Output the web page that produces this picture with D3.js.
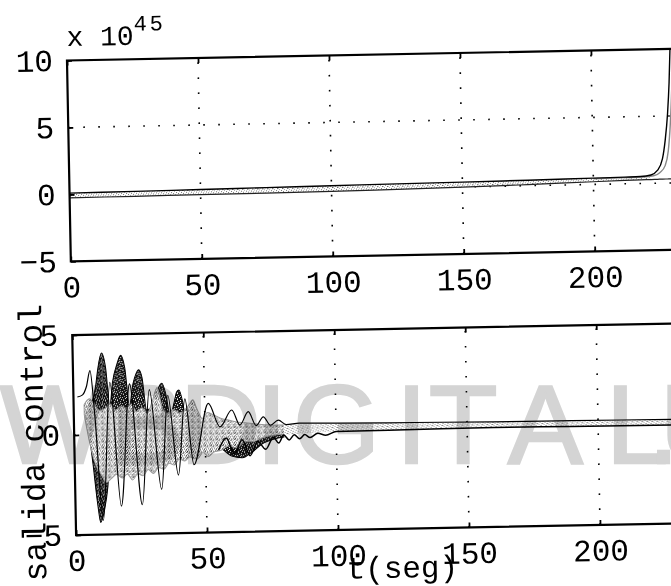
<!DOCTYPE html>
<html>
<head>
<meta charset="utf-8">
<script src="https://cdn.jsdelivr.net/npm/d3@7"></script>
<style>
  html, body { margin: 0; padding: 0; background: #fff; }
  svg { display: block; }
</style>
</head>
<body>
<svg id="chart" width="671" height="586"></svg>
<script>
// ---------------- data ----------------
const xTicks = [0, 50, 100, 150, 200, 250];
const yTicksTop = [-5, 0, 5, 10];
const yTicksBottom = [-5, 0, 5];

// upper panel, values in units of 10^45
const stateTime  = [0, 25, 50, 75, 100, 125, 150, 175, 200, 212, 218, 222, 224.5, 226.5, 227.7, 228.8, 229.6, 230.3, 231];
const stateHigh  = [0.1, 0.14, 0.18, 0.23, 0.28, 0.32, 0.36, 0.41, 0.47, 0.5, 0.52, 0.62, 0.95, 1.8, 3.2, 5.2, 7.5, 10.5, 14];
const stateLow   = [-0.25, -0.23, -0.2, -0.18, -0.15, -0.09, -0.02, 0.08, 0.2, 0.25, 0.27, 0.28, 0.29, 0.3, 0.3, 0.3, 0.3, 0.3, 0.3];
const stateTime2 = [200, 212, 220, 223, 225.5, 227.5, 228.8, 229.8, 230.8, 231.8];
const stateGray  = [0.42, 0.46, 0.5, 0.56, 0.8, 1.3, 2.4, 4.5, 8.0, 13];

// lower panel: control output traces
const ctrlATime = [1.5, 3.5, 5, 6.5, 8, 10.5, 14, 17.5, 21.5, 25.5, 29, 33, 36, 39.5, 42.5, 45.5, 51.4, 55.7, 60.3, 63.3, 66.6, 69.5, 72.3, 75, 78, 81, 86, 100, 130, 160, 190, 230, 250];
const ctrlA     = [1.9, 2.0, 2.4, 3.2, 1.0, -4.3, 2.6, -3.6, 2.5, -3.55, 2.2, -2.8, 1.9, -2.1, 1.7, -1.6, 1.45, 0.27, 1.1, 0.34, 1.0, 0.3, 0.73, 0.3, 0.55, 0.32, 0.38, 0.34, 0.3, 0.26, 0.24, 0.21, 0.2];

const ctrlBTime = [5, 7, 8.5, 9.5, 11, 12.5, 13.8, 15, 16.8, 18.3, 19.8, 21.3, 22.8, 24, 25.1, 26.3, 27.8, 30.5, 32.3, 33.8, 35.2, 36.8, 38.5, 39.4, 40.3, 41.4, 43, 47, 52, 56, 60, 64, 68, 72, 76, 80];
const ctrlBHigh = [1.2, 1.6, 2.4, 3.3, 4.07, 3.3, 1.4, 2.6, 3.5, 3.95, 3.3, 1.4, 2.5, 3.0, 3.2, 2.8, 1.2, 1.3, 2.2, 2.5, 2.0, 0.9, 1.6, 2.05, 2.15, 1.7, 0.6, 0.5, 0.3, 0.1, -0.1, 0.0, -0.1, 0.0, 0.0, -0.1];
const ctrlBLow  = [1.0, -1.5, -3.5, -4.4, -3.8, -2.6, -0.6, -1.2, -0.8, -1.0, -0.9, -0.8, -1.0, -0.9, -1.1, -1.0, -0.8, -0.6, -0.9, -0.9, -0.7, -0.5, -0.5, -0.7, -0.6, -0.5, -0.4, -0.6, -0.5, -0.8, -1.2, -1.3, -1.0, -0.6, -0.4, -0.3];

const ctrlCTime = [4, 6, 8, 10, 12, 14, 16, 18, 20, 22, 24, 26, 28, 30, 32, 34, 36, 38, 40, 42, 44, 45.5, 47, 49, 51, 53, 56, 59, 62, 65, 68, 72, 76, 80, 85];
const ctrlCHigh = [1.5, 1.8, 1.5, 1.2, 1.3, 1.5, 1.2, 1.4, 1.3, 1.5, 1.1, 1.3, 1.0, 1.6, 2.3, 1.2, 1.0, 1.2, 1.0, 1.1, 1.4, 1.65, 1.2, 0.7, 1.0, 0.9, 0.7, 0.6, 0.5, 0.45, 0.4, 0.35, 0.3, 0.3, 0.3];
const ctrlCLow  = [1.0, -0.5, -1.5, -2.0, -2.4, -2.2, -2.0, -2.2, -2.0, -2.3, -2.0, -2.1, -1.8, -2.0, -1.7, -1.8, -1.5, -1.6, -1.3, -1.4, -1.2, -1.3, -1.3, -1.0, -1.2, -1.0, -0.9, -0.7, -0.8, -0.5, -0.5, -0.3, -0.2, -0.15, -0.1];

const ctrlDTime = [55, 58, 61, 64, 67, 70, 73, 76, 78, 80, 82, 84, 86, 88, 90, 93, 96, 100, 130, 160, 190, 230, 250];
const ctrlD     = [-0.9, -0.3, -1.1, -0.4, -1.2, -0.5, -0.9, -0.3, -0.6, -0.2, -0.45, -0.2, -0.4, -0.2, -0.35, -0.15, -0.25, -0.08, -0.05, -0.02, -0.05, -0.07, -0.07];

const bandTime = [80, 100, 130, 160, 190, 230, 250];
const bandHigh = [0.32, 0.34, 0.3, 0.26, 0.24, 0.21, 0.2];
const bandLow  = [-0.2, -0.08, -0.05, -0.02, -0.05, -0.07, -0.07];

const watermark = "WBDIGITAL.U";
const watermarkX = [0, 110, 180, 256, 293, 396, 429, 508, 606, 648, 660];

// ---------------- layout ----------------
const W = 671, H = 586;
const left = 71.5, plotW = 655;
const top1 = 55.4, h1 = 201;
const top2 = 330, h2 = 200;
const FONT = "'Liberation Mono', 'DejaVu Sans Mono', monospace";

const svg = d3.select("#chart");
const defs = svg.append("defs");

// speckled fills imitating densely overlapping traces
function speckle(id, bg, size, dots) {
  const p = defs.append("pattern").attr("id", id)
    .attr("patternUnits", "userSpaceOnUse").attr("width", size).attr("height", size);
  p.append("rect").attr("width", size).attr("height", size).attr("fill", bg);
  dots.forEach(([px, py, c]) => p.append("rect").attr("x", px).attr("y", py)
    .attr("width", 1).attr("height", 1).attr("fill", c));
}
speckle("dark", "#111", 6, [[1,0,"#fff"],[4,1,"#fff"],[0,3,"#fff"],[3,4,"#fff"],[5,5,"#fff"],[2,2,"#bbb"],[4,3,"#fff"],[1,5,"#999"]]);
speckle("grey", "#fff", 6, [[0,0,"#888"],[2,0,"#aaa"],[4,1,"#777"],[1,2,"#999"],[3,2,"#444"],[5,3,"#999"],[0,4,"#aaa"],[2,4,"#777"],[4,5,"#888"],[1,5,"#bbb"],[5,0,"#999"],[3,5,"#555"],[1,1,"#aaa"],[5,2,"#888"],[3,3,"#999"],[0,5,"#777"],[4,4,"#222"],[2,3,"#bbb"]]);
speckle("band", "#fff", 5, [[0,0,"#777"],[2,1,"#999"],[4,2,"#666"],[1,3,"#aaa"],[3,4,"#777"],[0,2,"#bbb"]]);

const root = svg.append("g").attr("transform", "rotate(-1.1, 335, 293)");

const x = d3.scaleLinear([0, 250], [left, left + plotW]);

function panel(id, top, h, yDomain, yTicks) {
  const y = d3.scaleLinear(yDomain, [top + h, top]);
  const g = root.append("g");

  defs.append("clipPath").attr("id", id).append("rect")
    .attr("x", left).attr("y", top).attr("width", plotW).attr("height", h);

  // dotted grid
  const grid = g.append("g").attr("stroke", "#000").attr("stroke-width", 1.6)
    .attr("stroke-dasharray", "1.6 13.4").attr("fill", "none");
  grid.selectAll("line.v").data(xTicks.filter(t => t > 0 && t < 250)).join("line")
    .attr("class", "v").attr("x1", d => x(d)).attr("x2", d => x(d))
    .attr("y1", top + h).attr("y2", top);
  grid.selectAll("line.h").data(yTicks.filter(t => t > yDomain[0] && t < yDomain[1])).join("line")
    .attr("class", "h").attr("x1", left).attr("x2", left + plotW)
    .attr("y1", d => y(d)).attr("y2", d => y(d));

  const plot = g.append("g").attr("clip-path", `url(#${id})`);

  // axes: inward ticks, labels outside
  const style = sel => {
    sel.select(".domain").remove();
    sel.selectAll("text").attr("font-family", FONT).attr("font-size", 31).attr("fill", "#000");
    sel.selectAll("line").attr("stroke", "#000").attr("stroke-width", 1.8);
  };
  g.append("g").attr("transform", `translate(0,${top + h})`)
    .call(d3.axisBottom(x).tickValues(xTicks).tickSizeInner(-5).tickSizeOuter(0).tickPadding(14))
    .call(style);
  g.append("g").attr("transform", `translate(0,${top})`)
    .call(d3.axisTop(x).tickValues(xTicks).tickSizeInner(-5).tickSizeOuter(0).tickFormat(() => ""))
    .call(style);
  g.append("g").attr("transform", `translate(${left},0)`)
    .call(d3.axisLeft(y).tickValues(yTicks).tickSizeInner(-5).tickSizeOuter(0).tickPadding(14))
    .call(style);

  // frame
  g.append("rect").attr("x", left).attr("y", top).attr("width", plotW).attr("height", h)
    .attr("fill", "none").attr("stroke", "#000").attr("stroke-width", 2.2);

  return { y, plot };
}

const zip = (ts, ...cols) => ts.map((t, i) => [t, ...cols.map(c => c[i])]);

// ---------- upper panel ----------
{
  const { y, plot } = panel("clipTop", top1, h1, [-5, 10], yTicksTop);
  const line = d3.line().x(d => x(d[0])).y(d => y(d[1])).curve(d3.curveMonotoneX);
  const area = d3.area().x(d => x(d[0])).y0(d => y(d[2])).y1(d => y(d[1])).curve(d3.curveMonotoneX);
  const rows = zip(stateTime, stateHigh, stateLow);

  plot.append("path").attr("d", area(rows.filter(r => r[0] <= 222))).attr("fill", "url(#band)");
  plot.append("path").attr("d", line(zip(stateTime2, stateGray)))
    .attr("fill", "none").attr("stroke", "#888").attr("stroke-width", 1.4);
  plot.append("path").attr("d", line(rows.map(r => [r[0], r[2]])))
    .attr("fill", "none").attr("stroke", "#222").attr("stroke-width", 1.2);
  plot.append("path").attr("d", line(rows.map(r => [r[0], r[1]])))
    .attr("fill", "none").attr("stroke", "#000").attr("stroke-width", 1.4);

  // scale factor above the axis
  const t = root.append("text").attr("x", left).attr("y", 41)
    .attr("font-family", FONT).attr("font-size", 28).attr("fill", "#000");
  t.append("tspan").text("x 10");
  t.append("tspan").attr("dy", -14).attr("font-size", 22).attr("letter-spacing", 3).text("45");
}

// ---------- lower panel ----------
{
  const { y, plot } = panel("clipBottom", top2, h2, [-5, 5], yTicksBottom);
  const line = d3.line().x(d => x(d[0])).y(d => y(d[1])).curve(d3.curveMonotoneX);
  const area = d3.area().x(d => x(d[0])).y0(d => y(d[2])).y1(d => y(d[1])).curve(d3.curveMonotoneX);

  plot.append("path").attr("d", area(zip(ctrlBTime, ctrlBHigh, ctrlBLow)))
    .attr("fill", "url(#dark)").attr("stroke", "#000").attr("stroke-width", 1);
  plot.append("path").attr("d", area(zip(ctrlCTime, ctrlCHigh, ctrlCLow)))
    .attr("fill", "url(#grey)").attr("stroke", "#9a9a9a").attr("stroke-width", 1);
  plot.append("path").attr("d", area(zip(bandTime, bandHigh, bandLow))).attr("fill", "url(#band)");
  plot.append("path").attr("d", line(zip(ctrlDTime, ctrlD)))
    .attr("fill", "none").attr("stroke", "#000").attr("stroke-width", 1.5);
  plot.append("path").attr("d", line(zip(ctrlATime, ctrlA)))
    .attr("fill", "none").attr("stroke", "#000").attr("stroke-width", 1.2);

  root.append("text")
    .attr("transform", `translate(41,${top2 + h2 / 2 + 7}) rotate(-90)`)
    .attr("text-anchor", "middle")
    .attr("font-family", FONT).attr("font-size", 33).attr("fill", "#000")
    .text("salida control");

  root.append("text").attr("x", 397).attr("y", 579).attr("text-anchor", "middle")
    .attr("font-family", FONT).attr("font-size", 31).attr("fill", "#000")
    .text("t(seg)");
}

// watermark laid over the page, darkening whatever lies beneath
svg.append("text")
  .attr("x", watermarkX.join(" "))
  .attr("y", 463)
  .attr("font-family", "'Liberation Sans', Arial, sans-serif")
  .attr("font-size", 112)
  .attr("fill", "#d4d4d4")
  .attr("stroke", "#d4d4d4")
  .attr("stroke-width", 2.5)
  .style("mix-blend-mode", "multiply")
  .text(watermark);
</script>
</body>
</html>
